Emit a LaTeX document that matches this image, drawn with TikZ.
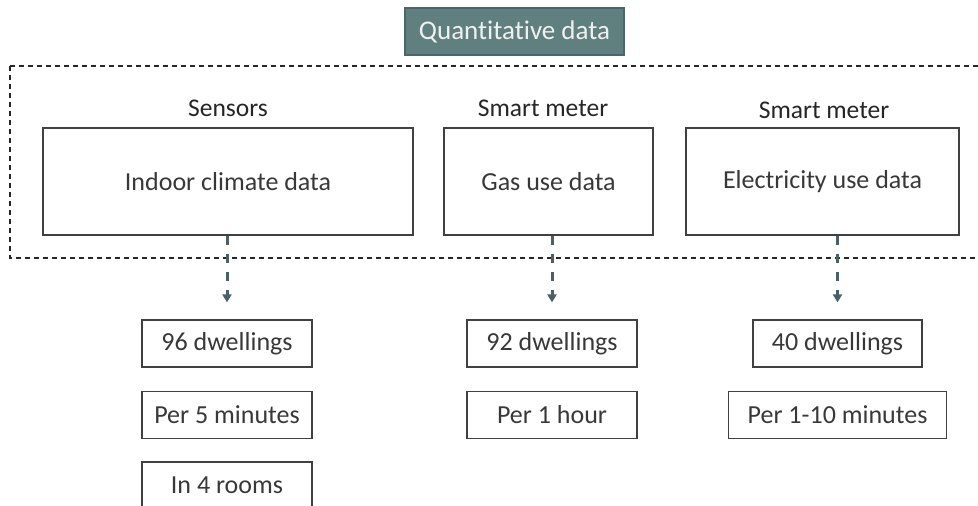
\documentclass[tikz,border=0pt]{standalone}
\usepackage{fontspec}
\setmainfont{Carlito}[Ligatures={NoCommon}]
\usetikzlibrary{arrows.meta,positioning}
\definecolor{slate}{RGB}{96,128,128}
\definecolor{slateline}{RGB}{74,104,106}
\definecolor{arrowgray}{RGB}{72,96,102}
\begin{document}
\begin{tikzpicture}[
    x=1pt, y=-1pt,
    titlebox/.style={rectangle, draw=slateline, line width=1.5pt, fill=slate, text=white!94!black, minimum width=219pt, minimum height=47pt, inner sep=0pt, font=\fontsize{27}{30}\selectfont},
    source/.style={rectangle, draw=black!75, line width=1.4pt, minimum height=107pt, inner sep=0pt, text=black!78, font=\fontsize{26}{30}\selectfont},
    device/.style={text=black!85, inner sep=0pt, font=\fontsize{25.5}{30}\selectfont},
    fact/.style={rectangle, draw=black!75, line width=1.2pt, minimum width=170pt, minimum height=47pt, inner sep=0pt, text=black!78, font=\fontsize{26}{30}\selectfont},
    flow/.style={draw=arrowgray, line width=3pt, dash pattern=on 9pt off 9pt, -{Triangle[width=9pt,length=8pt]}, shorten >=17pt}
]
\useasboundingbox (0,0) rectangle (978,506);
\clip (0,0) rectangle (978,506);

% Title
\node[titlebox] (title) at (514.5,31.5) {Quantitative data};

% Dashed frame
\draw[black!85, line width=1.1pt, dash pattern=on 5pt off 4pt] (10,66) rectangle (995,258);

% Data sources
\node[source, minimum width=370pt] (indoor) at (228,181.5) {Indoor climate data};
\node[source, minimum width=209pt] (gas) at (548.5,181.5) {Gas use data};
\node[source, minimum width=273pt] (elec) at (822.5,181.5) {Electricity use data};

% Devices
\node[device] (sensors) at (228,108) {Sensors};
\node[device] (gasmeter) at (543,108) {Smart meter};
\node[device] (elecmeter) at (824,110) {Smart meter};

% Indoor climate
\node[fact] (dw1) at (227,343.5) {96 dwellings};
\node[fact] (per1) at (227,415) {Per 5 minutes};
\node[fact] (rooms) at (227,485.5) {In 4 rooms};

% Gas
\node[fact] (dw2) at (552,343.5) {92 dwellings};
\node[fact] (per2) at (552,415) {Per 1 hour};

% Electricity
\node[fact, minimum width=169pt] (dw3) at (837.5,343.5) {40 dwellings};
\node[fact, minimum width=218pt] (per3) at (837.5,415) {Per 1-10 minutes};

% Arrows
\draw[flow] (dw1.north |- indoor.south) -- (dw1.north);
\draw[flow] (dw2.north |- gas.south) -- (dw2.north);
\draw[flow] (dw3.north |- elec.south) -- (dw3.north);

\end{tikzpicture}
\end{document}
